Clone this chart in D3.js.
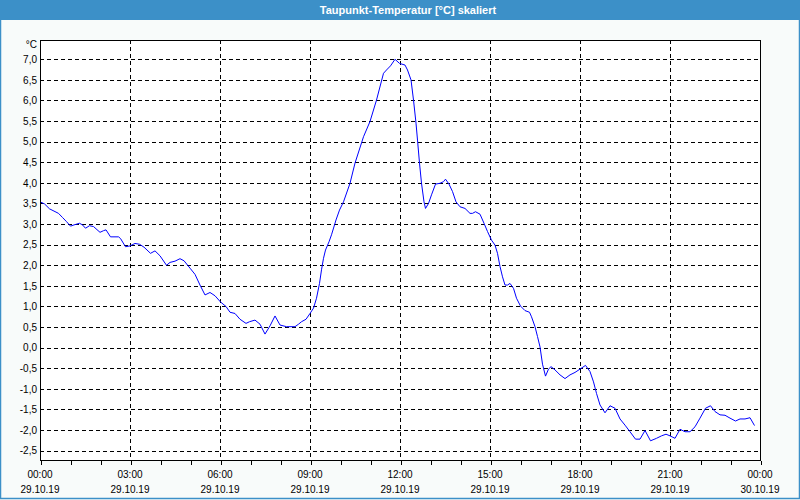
<!DOCTYPE html>
<html>
<head>
<meta charset="utf-8">
<script src="https://cdn.jsdelivr.net/npm/d3@7"></script>
<style>
  html, body { margin: 0; padding: 0; background: #f8fbfa; }
  svg { display: block; }
  text { font-family: "Liberation Sans", Arial, sans-serif; }
</style>
</head>
<body>
<svg id="chart" width="800" height="500"></svg>
<script>
// ---- data (minutes since 29.10.19 00:00, dew point °C) ----
const minutes = [0,9,19,37,45,53,61,68,79,85,91,99,107,120,127,132,141,157,161,171,180,190,199,208,221,230,240,253,260,270,280,288,300,310,320,330,340,350,361,372,380,390,400,412,419,430,440,450,460,470,480,493,510,517,523,532,540,547,553,559,563,567,571,578,583,589,592,599,607,620,630,647,660,673,687,693,701,710,719,730,735,742,747,752,755,759,763,768,771,777,783,791,800,807,811,818,825,832,840,850,860,865,871,880,888,895,903,910,915,920,925,930,935,940,947,953,961,970,979,983,990,995,1000,1005,1011,1017,1022,1030,1040,1050,1060,1070,1080,1091,1100,1107,1113,1120,1130,1140,1150,1160,1170,1180,1191,1200,1210,1221,1233,1243,1252,1260,1270,1280,1290,1300,1310,1320,1331,1341,1350,1360,1370,1380,1391,1400,1410,1420,1429];
const dewPoint = [3.54,3.49,3.37,3.26,3.16,3.06,2.95,2.98,3.02,2.98,2.90,2.96,2.94,2.80,2.84,2.86,2.69,2.69,2.65,2.45,2.47,2.53,2.51,2.44,2.29,2.35,2.23,2.00,2.07,2.10,2.16,2.11,1.93,1.78,1.52,1.28,1.34,1.26,1.11,1.00,0.86,0.83,0.69,0.59,0.63,0.67,0.57,0.33,0.53,0.77,0.55,0.51,0.51,0.57,0.63,0.69,0.83,0.96,1.20,1.56,1.89,2.17,2.37,2.57,2.74,2.98,3.10,3.34,3.54,3.99,4.48,5.12,5.49,6.01,6.66,6.74,6.84,7.00,6.90,6.86,6.74,6.50,6.01,5.45,5.04,4.48,3.99,3.54,3.38,3.50,3.71,3.97,3.99,4.03,4.09,3.97,3.79,3.54,3.42,3.38,3.26,3.26,3.30,3.24,3.02,2.82,2.61,2.49,2.29,1.97,1.72,1.52,1.52,1.56,1.44,1.20,1.01,0.90,0.86,0.75,0.51,0.27,0.02,-0.40,-0.69,-0.52,-0.46,-0.54,-0.66,-0.75,-0.66,-0.60,-0.52,-0.43,-0.58,-0.83,-1.11,-1.39,-1.58,-1.41,-1.47,-1.73,-1.88,-2.04,-2.22,-2.22,-2.01,-2.26,-2.20,-2.14,-2.10,-2.14,-2.20,-1.98,-2.04,-2.04,-1.92,-1.71,-1.47,-1.41,-1.55,-1.63,-1.64,-1.71,-1.78,-1.73,-1.73,-1.70,-1.89];

const yTicks = [-2.5,-2.0,-1.5,-1.0,-0.5,0.0,0.5,1.0,1.5,2.0,2.5,3.0,3.5,4.0,4.5,5.0,5.5,6.0,6.5,7.0];
const xMajorTicks = [0,180,360,540,720,900,1080,1260,1440];
const timeLabels = ["00:00","03:00","06:00","09:00","12:00","15:00","18:00","21:00","00:00"];
const dateLabels = ["29.10.19","29.10.19","29.10.19","29.10.19","29.10.19","29.10.19","29.10.19","29.10.19","30.10.19"];
const xDomain = [0, 1440];
const yDomain = [-2.726, 7.468];
const titleText = "Taupunkt-Temperatur [°C] skaliert";
const unitText = "°C";

// ---- layout ----
const W = 800, H = 500;
const plot = { left: 40, right: 760, top: 40, bottom: 460 };
const blue = "#3c90c8";

const svg = d3.select("#chart");

// outer background
svg.append("rect").attr("x", 0).attr("y", 0).attr("width", W).attr("height", H).attr("fill", "#f8fbfa");

// title bar
svg.append("rect").attr("x", 0).attr("y", 0).attr("width", W).attr("height", 20).attr("fill", blue);
svg.append("text").attr("x", 408).attr("y", 14).attr("text-anchor", "middle")
  .attr("fill", "#ffffff").attr("font-size", "11px").attr("font-weight", "bold").text(titleText);

// window border
svg.append("path").attr("d", `M0.5,20 V498.5 H799.5 V20`).attr("fill", "none")
  .attr("stroke", blue).attr("stroke-width", 1.5);

const x = d3.scaleLinear().domain(xDomain).range([plot.left, plot.right]);
const y = d3.scaleLinear().domain(yDomain).range([plot.bottom, plot.top]);

// plot background
svg.append("rect").attr("x", plot.left).attr("y", plot.top)
  .attr("width", plot.right - plot.left).attr("height", plot.bottom - plot.top).attr("fill", "#ffffff");

// horizontal grid
const grid = svg.append("g").attr("shape-rendering", "crispEdges")
  .attr("stroke", "#000").attr("stroke-width", 1).attr("stroke-dasharray", "4,3");
grid.selectAll("line.h").data(yTicks).join("line").attr("class", "h")
  .attr("x1", plot.left).attr("x2", plot.right)
  .attr("y1", d => Math.round(y(d)) + 0.5).attr("y2", d => Math.round(y(d)) + 0.5);
grid.selectAll("line.v").data(xMajorTicks.slice(1, -1)).join("line").attr("class", "v")
  .attr("y1", plot.top).attr("y2", plot.bottom)
  .attr("x1", d => Math.round(x(d)) + 0.5).attr("x2", d => Math.round(x(d)) + 0.5);

// bottom axis with hourly ticks
const hourTicks = d3.range(0, 1441, 60);
const xAxis = d3.axisBottom(x).tickValues(hourTicks).tickSize(4).tickSizeOuter(0).tickFormat("");
const gx = svg.append("g").attr("transform", `translate(0.5,${plot.bottom + 0.5})`).call(xAxis);
gx.select(".domain").remove();
gx.selectAll(".tick line").attr("stroke", "#000").attr("shape-rendering", "crispEdges");

// x labels
const xl = svg.append("g").attr("font-size", "10px").attr("fill", "#000").attr("text-anchor", "middle");
xl.selectAll("text.t").data(xMajorTicks).join("text").attr("class", "t")
  .attr("x", d => x(d)).attr("y", 478).text((d, i) => timeLabels[i]);
xl.selectAll("text.d").data(xMajorTicks).join("text").attr("class", "d")
  .attr("x", d => x(d)).attr("y", 493).text((d, i) => dateLabels[i]);

// y axis labels
const fmt = d => d3.format(".1f")(d).replace(".", ",").replace("−", "-");
const yAxis = d3.axisLeft(y).tickValues(yTicks).tickSize(0).tickPadding(3).tickFormat(fmt);
const gy = svg.append("g").attr("transform", `translate(${plot.left},0)`).call(yAxis);
gy.select(".domain").remove();
gy.selectAll(".tick text").attr("font-family", "Liberation Sans, Arial, sans-serif")
  .attr("font-size", "10px").attr("fill", "#000");

svg.append("text").attr("x", 37).attr("y", 48).attr("text-anchor", "end")
  .attr("font-size", "10px").attr("fill", "#000").text(unitText);

// data line
const pts = minutes.map((m, i) => [m, dewPoint[i]]);
const line = d3.line().x(d => x(d[0])).y(d => y(d[1]));
svg.append("path").datum(pts).attr("d", line).attr("fill", "none")
  .attr("stroke", "#0000ff").attr("stroke-width", 1);

// frame
svg.append("rect").attr("x", plot.left + 0.5).attr("y", plot.top + 0.5)
  .attr("width", plot.right - plot.left).attr("height", plot.bottom - plot.top)
  .attr("fill", "none").attr("stroke", "#000").attr("stroke-width", 1).attr("shape-rendering", "crispEdges");
</script>
</body>
</html>
